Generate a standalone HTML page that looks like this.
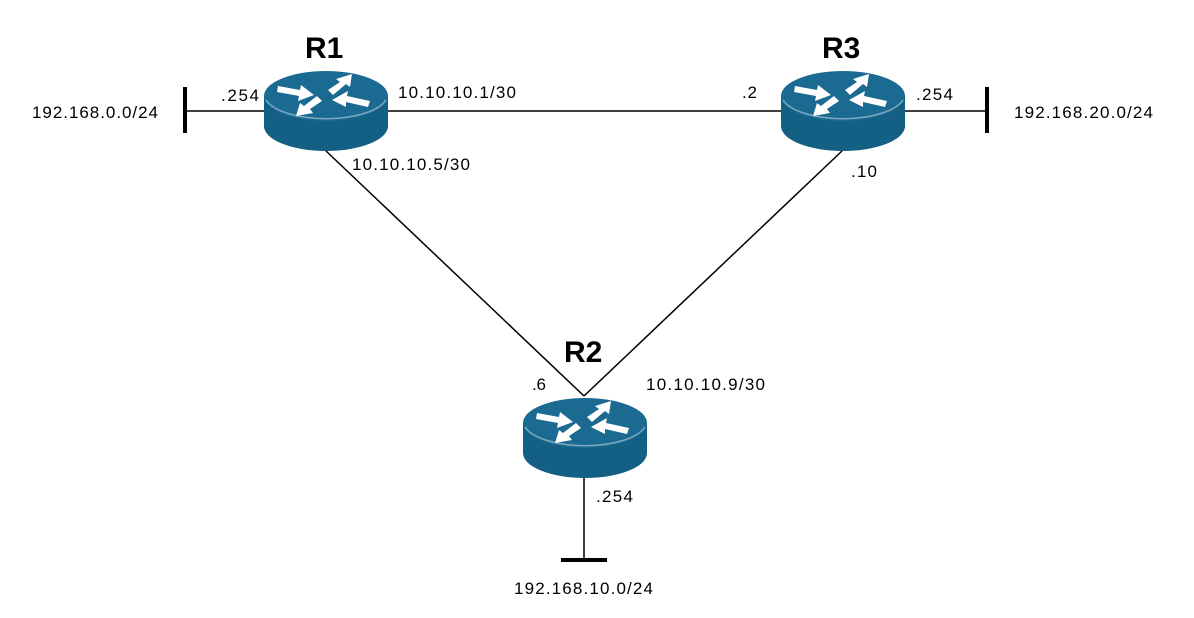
<!DOCTYPE html>
<html><head><style>
html,body{margin:0;padding:0;background:#fff;}
svg{display:block;}
text{font-family:"Liberation Sans",sans-serif;font-size:17px;fill:#000;}
.b{font-size:30px;font-weight:bold;}
</style></head><body>
<svg width="1194" height="618" viewBox="0 0 1194 618">
<defs>
<g id="rt">
<path d="M0,26 L0,56 A62,25 0 0 0 124,56 L124,26 Z" fill="#145f84"/>
<ellipse cx="62" cy="26" rx="62" ry="25" fill="#1a6a92"/>
<path d="M2,30 A62,25 0 0 0 122,30" fill="none" stroke="#7fa9c0" stroke-width="1.5"/>
<g fill="#fff">
<polygon points="14,16 36,20 37,15 50,25 34,31 35,26 13,22"/>
<polygon points="64,20 76,12 72,9 88,4 86,17 82,14 69,25"/>
<polygon points="68,30 84,21 83,26 106,31 104,37 82,32 82,37"/>
<polygon points="58,31 46,39 49,43 32,46 36,33 40,36 53,26"/>
</g>
</g>
</defs>
<g stroke="#000" stroke-width="1.5">
<line x1="185" y1="111" x2="987" y2="111"/>
<line x1="325" y1="150" x2="584" y2="396"/>
<line x1="843" y1="150" x2="584" y2="396"/>
<line x1="584" y1="470" x2="584" y2="560"/>
</g>
<g stroke="#000" stroke-width="4">
<line x1="185" y1="87" x2="185" y2="133"/>
<line x1="987" y1="87" x2="987" y2="133"/>
<line x1="561" y1="560" x2="607" y2="560"/>
</g>
<use href="#rt" x="264" y="70"/>
<use href="#rt" x="781" y="70"/>
<use href="#rt" x="523" y="397"/>
<text class="b" x="305" y="58">R1</text>
<text class="b" x="822" y="58">R3</text>
<text class="b" x="564" y="362">R2</text>
<text x="32" y="118" textLength="126">192.168.0.0/24</text>
<text x="221" y="101" textLength="38">.254</text>
<text x="398" y="98" textLength="118">10.10.10.1/30</text>
<text x="742" y="98" textLength="15">.2</text>
<text x="916" y="100" textLength="37">.254</text>
<text x="1014" y="118" textLength="139">192.168.20.0/24</text>
<text x="352" y="170" textLength="118">10.10.10.5/30</text>
<text x="851" y="177" textLength="26">.10</text>
<text x="532" y="390" textLength="14">.6</text>
<text x="646" y="390" textLength="119">10.10.10.9/30</text>
<text x="596" y="502" textLength="37">.254</text>
<text x="514" y="594" textLength="139">192.168.10.0/24</text>
</svg>
</body></html>
